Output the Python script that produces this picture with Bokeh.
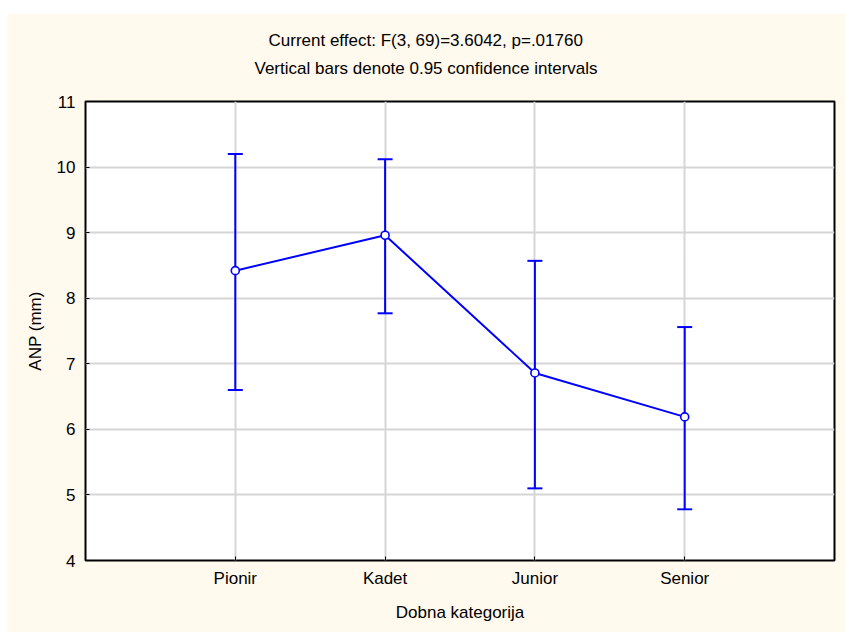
from bokeh.plotting import figure
from bokeh.models import ColumnDataSource, Whisker, TeeHead, FixedTicker, Range1d, Title
from bokeh.embed import file_html
from bokeh.resources import INLINE

# ---- data ----
categories = ["Pionir", "Kadet", "Junior", "Senior"]
means = [8.42, 8.96, 6.86, 6.19]
upper_ci = [10.20, 10.12, 8.57, 7.56]
lower_ci = [6.60, 7.77, 5.10, 4.78]
y_ticks = [4, 5, 6, 7, 8, 9, 10, 11]
title_lines = ["Current effect: F(3, 69)=3.6042, p=.01760",
               "Vertical bars denote 0.95 confidence intervals"]
x_title = "Dobna kategorija"
y_title = "ANP (mm)"

FONT = "Liberation Sans"
BLUE = "#0000FF"
CREAM = "#FFF9EE"

xs = list(range(1, len(categories) + 1))
src = ColumnDataSource(dict(x=xs, mean=means, upper=upper_ci, lower=lower_ci))

p = figure(width=838, height=619, output_backend="svg", toolbar_location=None,
           x_range=Range1d(0, len(categories) + 1), y_range=Range1d(4, 11),
           min_border_left=78, min_border_right=11, min_border_top=88, min_border_bottom=72,
           background_fill_color="white", border_fill_color=CREAM,
           margin=(13, 0, 0, 7))

p.outline_line_color = "black"
p.outline_line_width = 2

# grid
p.xgrid.ticker = FixedTicker(ticks=xs)
p.ygrid.ticker = FixedTicker(ticks=y_ticks)
for g in (p.xgrid, p.ygrid):
    g.grid_line_color = "#D6D6D6"
    g.grid_line_width = 2

# axes
p.xaxis.ticker = FixedTicker(ticks=xs)
p.xaxis.major_label_overrides = {x: c for x, c in zip(xs, categories)}
p.yaxis.ticker = FixedTicker(ticks=y_ticks)
for ax in (p.xaxis, p.yaxis):
    ax.axis_line_color = None
    ax.major_tick_in = 4
    ax.major_tick_out = 0
    ax.major_tick_line_color = "black"
    ax.major_tick_line_width = 1
    ax.minor_tick_line_color = None
    ax.major_label_text_font = FONT
    ax.major_label_text_font_size = "17px"
    ax.major_label_text_color = "black"
    ax.axis_label_text_font = FONT
    ax.axis_label_text_font_size = "17px"
    ax.axis_label_text_font_style = "normal"
    ax.axis_label_text_color = "black"
p.xaxis.axis_label = x_title
p.yaxis.axis_label = y_title
p.xaxis.major_label_standoff = 8
p.yaxis.major_label_standoff = 10
p.xaxis.axis_label_standoff = 12
p.yaxis.axis_label_standoff = 9

# data
p.line("x", "mean", source=src, line_color=BLUE, line_width=2)
p.add_layout(Whisker(base="x", upper="upper", lower="lower", source=src,
                     line_color=BLUE, line_width=2,
                     upper_head=TeeHead(size=15, line_color=BLUE, line_width=2),
                     lower_head=TeeHead(size=15, line_color=BLUE, line_width=2)))
p.scatter("x", "mean", source=src, marker="circle", size=8,
          line_color=BLUE, line_width=1.6, fill_color="white")

# titles: added closest-first; left-aligned with offsets so they sit centred on the canvas
p.title = None
for line_text, standoff, offset in zip(reversed(title_lines), [47, -32], [169, 183]):
    p.add_layout(Title(text=line_text, align="left", offset=offset, standoff=standoff,
                       text_font=FONT, text_font_size="17px", text_font_style="normal",
                       text_color="black"), "above")

open("out.html", "w").write(file_html(p, INLINE))
